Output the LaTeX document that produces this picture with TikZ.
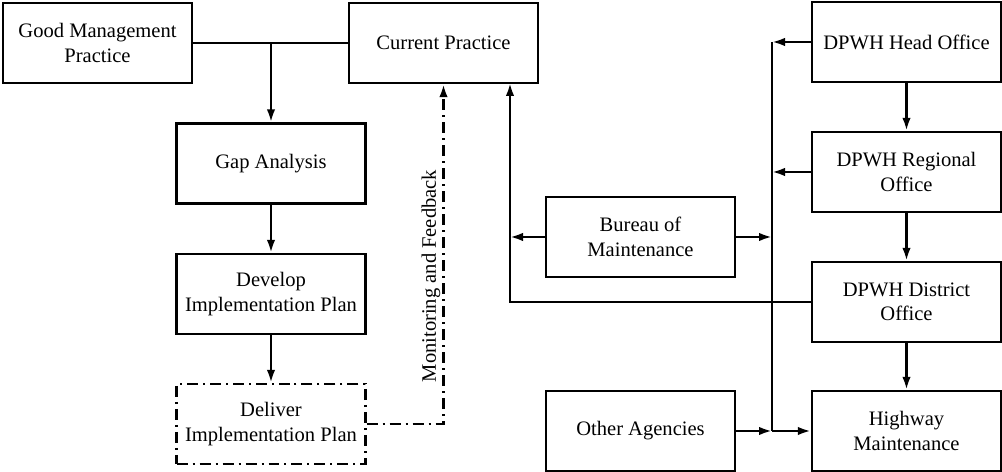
\documentclass[tikz,border=0pt]{standalone}
\usepackage{fontspec}
\setmainfont{Liberation Serif}
\usetikzlibrary{arrows.meta,positioning,calc}

\begin{document}
\begin{tikzpicture}[x=0.02cm,y=-0.02cm,>={Latex[length=2.6mm,width=1.7mm]},line width=1.4pt,
  box/.style={draw,minimum width=3.78cm,minimum height=1.6cm,align=center,inner sep=1pt,font=\fontsize{11.7}{14}\selectfont},
  dashdot/.style={dash pattern=on 2.2mm off 1mm on 0.4mm off 1mm}]
\useasboundingbox (0,0) rectangle (1002,472);
\node[box] (gmp) at (97.5,43) {Good Management\\Practice};
\node[box] (cp) at (443.5,43) {Current Practice};
\node[box] (gap) at (271,163.5) {Gap Analysis};
\node[box] (dev) at (271,294) {Develop\\Implementation Plan};
\node[box,dashdot] (del) at (271,424) {Deliver\\Implementation Plan};
\node[box] (bom) at (640.5,237) {Bureau of\\Maintenance};
\node[box] (oth) at (640.5,431) {Other Agencies};
\node[box] (head) at (906.5,42) {DPWH Head Office};
\node[box] (reg) at (906.5,172) {DPWH Regional\\Office};
\node[box] (dist) at (906.5,302) {DPWH District\\Office};
\node[box] (hwy) at (906.5,431) {Highway\\Maintenance};
\node[rotate=90,font=\fontsize{11.7}{14}\selectfont] (mf) at (431,276) {Monitoring and Feedback};
\coordinate (cpin) at (510,83);
\coordinate (bt) at (772,42);
\coordinate (bb) at (772,431);
\draw (gmp.east) -- (cp.west);
\draw[->] (gmp.east -| gap.north) -- (gap);
\draw[->] (gap) -- (dev);
\draw[->] (dev) -- (del);
\draw[->,dashdot] (del.east) -| (cp.south);
\draw[->] (dist.west) -| (cpin);
\draw[->] (bom.west) -- (bom.west -| cpin);
\draw[->] (bom.east) -- (bom.east -| bt);
\draw[->] (head.west) -- (bt);
\draw (bt) -- (bb);
\draw[->] (reg.west) -- (reg.west -| bt);
\draw[->] (oth.east) -- (bb);
\draw[->] (bb) -- (hwy.west);
\draw[->] (head) -- (reg);
\draw[->] (reg) -- (dist);
\draw[->] (dist) -- (hwy);
\end{tikzpicture}
\end{document}
